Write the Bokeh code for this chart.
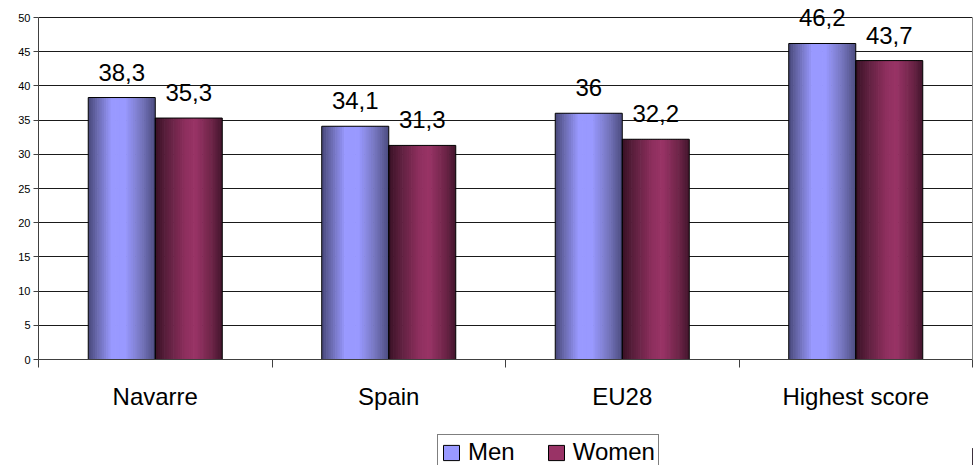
from bokeh.plotting import figure
from bokeh.layouts import column
from bokeh.models import (ColumnDataSource, FixedTicker, LabelSet, Legend, LegendItem,
                          Range1d, LinearAxis)
from bokeh.core.properties import value
from bokeh.embed import file_html
from bokeh.resources import INLINE

# ---- data ----
categories = ["Navarre", "Spain", "EU28", "Highest score"]
men = [38.3, 34.1, 36.0, 46.2]
women = [35.3, 31.3, 32.2, 43.7]
series_names = ["Men", "Women"]
series_colors = ["#9999ff", "#993366"]
y_ticks = [0, 5, 10, 15, 20, 25, 30, 35, 40, 45, 50]
y_max = 50

FONT = "Liberation Sans"
BAR_W = 0.287
N_STRIPS = 30

men_stops = [(0.0, "#48487a"), (0.12, "#6666a8"), (0.35, "#9999ff"), (0.55, "#9999ff"),
             (0.8, "#7575bd"), (1.0, "#4c4c80")]
women_stops = [(0.0, "#381124"), (0.15, "#581e3b"), (0.45, "#8e2f5e"), (0.6, "#993366"),
               (0.85, "#6c2447"), (1.0, "#42152c")]


def hex2rgb(h):
    h = h.lstrip("#")
    return [int(h[i:i + 2], 16) for i in (0, 2, 4)]


def interp(stops, t):
    for (t0, c0), (t1, c1) in zip(stops[:-1], stops[1:]):
        if t0 <= t <= t1:
            f = 0 if t1 == t0 else (t - t0) / (t1 - t0)
            a, b = hex2rgb(c0), hex2rgb(c1)
            r = [round(a[i] + (b[i] - a[i]) * f) for i in range(3)]
            return "#%02x%02x%02x" % tuple(r)
    return stops[-1][1]


MAIN_H = 431
TOP_B = 2
BOT_B = 72
# keep 0..50 spanning 342 px, leave headroom above 50 for labels
px_per_unit = 342 / y_max
y_top = (MAIN_H - TOP_B - BOT_B) / px_per_unit

p = figure(width=976, height=MAIN_H, output_backend="svg", toolbar_location=None,
           x_range=Range1d(0, 4), y_range=Range1d(0, y_top),
           min_border_left=38, min_border_right=4, min_border_top=TOP_B,
           min_border_bottom=BOT_B)
p.background_fill_color = "white"
p.border_fill_color = "white"
p.outline_line_color = None

# grid
p.xgrid.grid_line_color = None
p.ygrid.ticker = FixedTicker(ticks=y_ticks)
p.ygrid.grid_line_color = "#1a1a1a"
p.ygrid.grid_line_width = 1

# y axis
p.yaxis.ticker = FixedTicker(ticks=y_ticks)
p.yaxis.bounds = (0, y_max)
p.yaxis.major_label_text_font = FONT
p.yaxis.major_label_text_font_size = "11px"
p.yaxis.major_label_text_color = "black"
p.yaxis.major_tick_out = 5
p.yaxis.major_tick_in = 0
p.yaxis.minor_tick_line_color = None
p.yaxis.axis_line_color = "#404040"
p.yaxis.major_tick_line_color = "#404040"
p.yaxis.major_label_standoff = 3

# right border line (0..50)
rax = LinearAxis(ticker=FixedTicker(ticks=[]), bounds=(0, y_max),
                 major_label_text_font_size="0px", axis_line_color="#808080",
                 major_tick_line_color=None, minor_tick_line_color=None)
p.add_layout(rax, "right")

# x axis
centers = [i + 0.5 for i in range(len(categories))]
bounds = [float(i) for i in range(len(categories) + 1)]
p.xaxis.ticker = FixedTicker(ticks=centers, minor_ticks=bounds)
p.xaxis.major_label_overrides = {c: name for c, name in zip(centers, categories)}
p.xaxis.major_tick_out = 0
p.xaxis.major_tick_in = 0
p.xaxis.minor_tick_out = 8
p.xaxis.minor_tick_in = 0
p.xaxis.minor_tick_line_color = "#404040"
p.xaxis.axis_line_color = "#404040"
p.xaxis.major_label_text_font = FONT
p.xaxis.major_label_text_font_size = "24px"
p.xaxis.major_label_text_color = "black"
p.xaxis.major_label_standoff = 15

# bars with horizontal gradient built from strips
for s_idx, (vals, stops) in enumerate([(men, men_stops), (women, women_stops)]):
    lefts, rights, tops, colors = [], [], [], []
    for i, v in enumerate(vals):
        x0 = centers[i] - BAR_W + s_idx * BAR_W
        for k in range(N_STRIPS):
            lefts.append(x0 + BAR_W * k / N_STRIPS)
            r = x0 + BAR_W * (k + 1) / N_STRIPS
            if k < N_STRIPS - 1:
                r += 0.003
            rights.append(r)
            tops.append(v)
            colors.append(interp(stops, (k + 0.5) / N_STRIPS))
    src = ColumnDataSource(dict(left=lefts, right=rights, top=tops,
                                bottom=[0] * len(tops), color=colors))
    p.quad(left="left", right="right", top="top", bottom="bottom", source=src,
           fill_color="color", line_color=None)

for s_idx, vals in enumerate([men, women]):
    xs = [c - BAR_W / 2 + s_idx * BAR_W for c in centers]
    labels = [f"{v:g}".replace(".", ",") for v in vals]
    src = ColumnDataSource(dict(x=xs, top=vals, label=labels))
    p.vbar(x="x", top="top", bottom=0, width=BAR_W, source=src,
           fill_color=None, line_color="black", line_width=1)
    ls = LabelSet(x="x", y="top", text="label", source=src, text_align="center",
                  text_baseline="alphabetic", y_offset=17, text_font=value(FONT),
                  text_font_size=value("24px"), text_color=value("black"))
    p.add_layout(ls)

# ---- legend strip below ----
LG_H = 465 - MAIN_H
lg = figure(width=976, height=LG_H, output_backend="svg", toolbar_location=None,
            x_range=Range1d(0, 1), y_range=Range1d(0, 1), x_axis_type=None, y_axis_type=None,
            min_border=0, min_border_left=0, min_border_right=0, min_border_top=0,
            min_border_bottom=0)
lg.outline_line_color = None
lg.xgrid.grid_line_color = None
lg.ygrid.grid_line_color = None
legend_items = []
for name, col in zip(series_names, series_colors):
    # legend-only renderer, placed outside the visible range
    dsrc = ColumnDataSource(dict(x=[5.0], top=[0.5]))
    r = lg.vbar(x="x", top="top", bottom=0, width=0.1, source=dsrc,
                fill_color=col, line_color="black", line_width=1)
    legend_items.append(LegendItem(label=name, renderers=[r]))

PAD = 3
ITEM_H = 32
legend = Legend(items=legend_items, orientation="horizontal",
                location=(399, LG_H - 1 - (2 * PAD + ITEM_H)),
                glyph_width=20, glyph_height=19, label_text_font=FONT,
                label_text_font_size="24px", label_text_color="black",
                label_standoff=7, spacing=31,
                padding=PAD, margin=0, border_line_color="black", border_line_width=1,
                background_fill_color="white", background_fill_alpha=1)
lg.add_layout(legend, "center")

layout = column(p, lg, spacing=0)
open("out.html", "w").write(file_html(layout, INLINE))
